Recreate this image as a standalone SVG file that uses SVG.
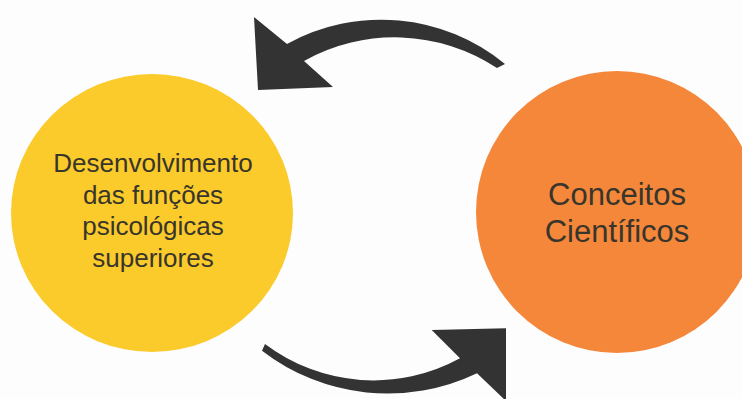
<svg xmlns="http://www.w3.org/2000/svg" width="742" height="399" viewBox="0 0 742 399">
  <style>
    .label { font-family: "Liberation Sans", Arial, sans-serif; fill: #38352c; text-anchor: middle; }
    .small { font-size: 26px; }
    .big { font-size: 31px; }
    .arrow { fill: #333333; stroke: none; }
  </style>
  <rect x="0" y="0" width="742" height="399" fill="#fdfdfd"/>
  <g id="node-desenvolvimento">
    <ellipse cx="152" cy="213" rx="141" ry="139" fill="#fbca2b"/>
    <text class="label small" x="153" y="172">Desenvolvimento</text>
    <text class="label small" x="153" y="203.5">das funções</text>
    <text class="label small" x="153" y="235">psicológicas</text>
    <text class="label small" x="153" y="266.5">superiores</text>
  </g>
  <g id="node-conceitos">
    <circle cx="617" cy="212" r="141" fill="#f5873a"/>
    <text class="label big" x="617" y="205">Conceitos</text>
    <text class="label big" x="617" y="242">Científicos</text>
  </g>
  <g id="connectors">
    <path class="arrow" d="M 254,17 L 287,44 A 195 195 0 0 1 505,64 L 497,68 A 186 186 0 0 0 304,61 L 333,87 L 258,90 Z"/>
    <path class="arrow" d="M 262,350.7 A 206 206 0 0 0 477,373.3 L 506,401 L 506,328.3 L 431.7,330 L 460,358.3 A 180 180 0 0 1 265,344 Z"/>
  </g>
</svg>
